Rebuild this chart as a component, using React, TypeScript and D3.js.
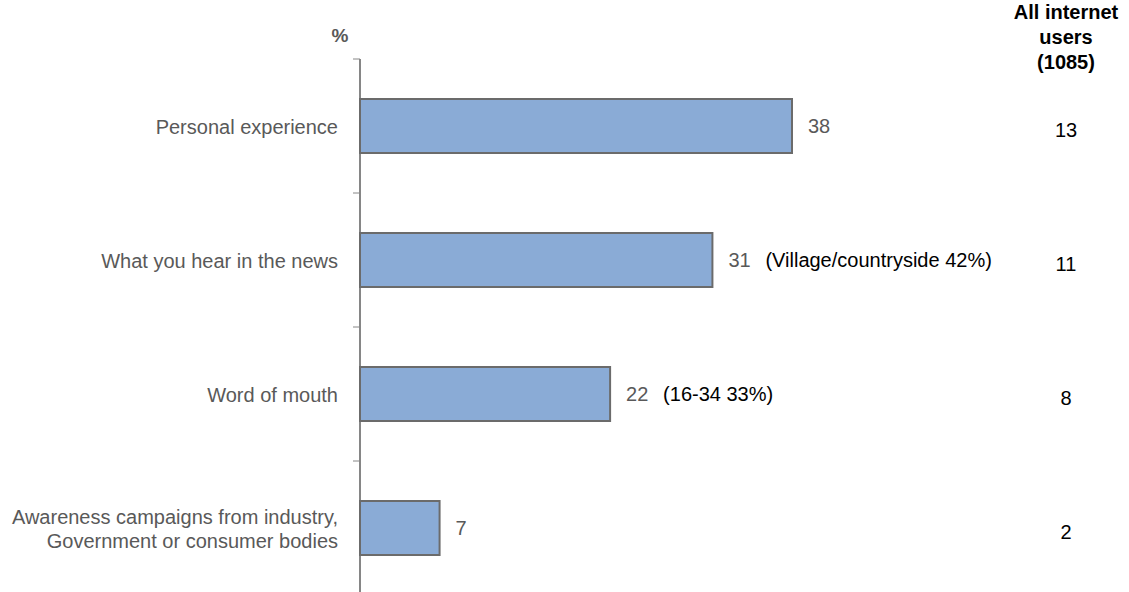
import React from "react";
import * as d3 from "d3";

const categories = [
  ["Personal experience"],
  ["What you hear in the news"],
  ["Word of mouth"],
  ["Awareness campaigns from industry,", "Government or consumer bodies"],
];
const values = [38, 31, 22, 7];
const notes = ["", "(Village/countryside 42%)", "(16-34 33%)", ""];
const allUsers = [13, 11, 8, 2];
const headerLines = ["All internet", "users", "(1085)"];

const W = 1129;
const H = 592;
const FONT = "Arial, 'Liberation Sans', sans-serif";

export default function App() {
  const x = d3.scaleLinear().domain([0, 38]).range([360, 792]);
  const p = 80 / 134;
  const y = d3
    .scaleBand<number>()
    .domain(d3.range(categories.length))
    .range([59, 595])
    .paddingInner(p)
    .paddingOuter(p / 2);
  const step = y.step();
  const tickYs = d3.range(categories.length + 1).map((i) => 59 + i * step);

  return (
    <svg
      width={W}
      height={H}
      style={{ position: "absolute", left: 0, top: 0, background: "#fff" }}
      fontFamily={FONT}
    >
      <text x={340} y={42} textAnchor="middle" fontSize={19} fontWeight="bold" fill="#595959">
        %
      </text>
      {headerLines.map((l, i) => (
        <text key={i} x={1066} y={19 + i * 25} textAnchor="middle" fontSize={20} fontWeight="bold" fill="#000">
          {l}
        </text>
      ))}
      <line x1={360} x2={360} y1={59} y2={H} stroke="#868686" strokeWidth={2} />
      {tickYs.map((t, i) => (
        <line key={i} x1={353} x2={360} y1={t} y2={t} stroke="#868686" strokeWidth={1} />
      ))}
      {values.map((v, i) => {
        const by = y(i)!;
        const cy = by + y.bandwidth() / 2;
        const lines = categories[i];
        return (
          <g key={i}>
            <rect
              x={x(0)}
              y={by}
              width={x(v) - x(0)}
              height={y.bandwidth()}
              fill="#8aabd6"
              stroke="#6b6b6b"
              strokeWidth={2}
            />
            {lines.map((l, j) => (
              <text
                key={j}
                x={338}
                y={cy + (j - (lines.length - 1) / 2) * 24 + 1}
                dy="0.37em"
                textAnchor="end"
                fontSize={20}
                fill="#595959"
              >
                {l}
              </text>
            ))}
            <text x={x(v) + 16} y={cy} dy="0.37em" fontSize={20} fill="#595959">
              {v}
            </text>
            {notes[i] && (
              <text x={x(v) + 53} y={cy} dy="0.37em" fontSize={20} fill="#000">
                {notes[i]}
              </text>
            )}
            <text x={1066} y={cy + 4} dy="0.37em" textAnchor="middle" fontSize={20} fill="#000">
              {allUsers[i]}
            </text>
          </g>
        );
      })}
    </svg>
  );
}
